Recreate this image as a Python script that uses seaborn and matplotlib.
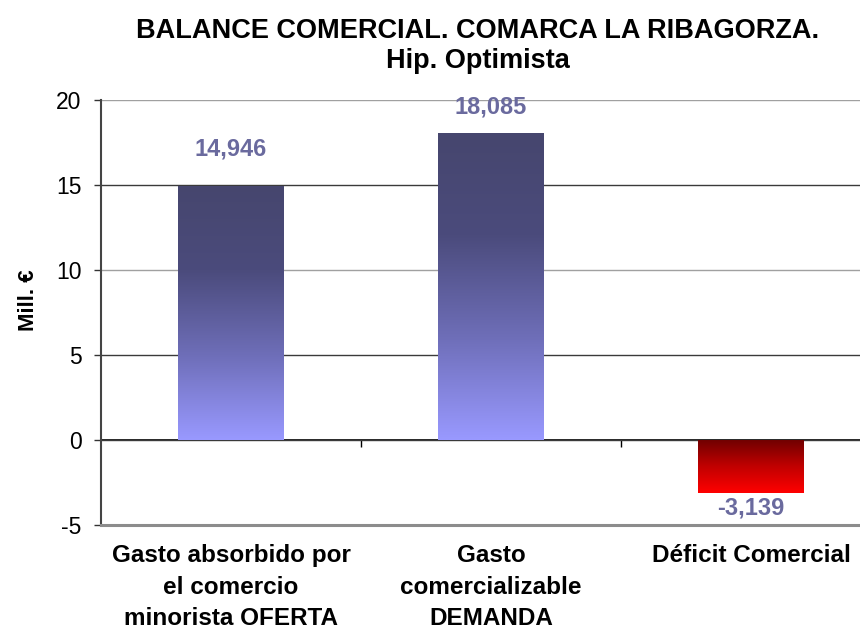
import numpy as np
import pandas as pd
import matplotlib
matplotlib.use("Agg")
import matplotlib.pyplot as plt
from matplotlib.colors import LinearSegmentedColormap
import seaborn as sns

categories = ["Gasto absorbido por\nel comercio\nminorista OFERTA",
              "Gasto\ncomercializable\nDEMANDA",
              "Déficit Comercial"]
values = [14.946, 18.085, -3.139]
value_labels = ["14,946", "18,085", "-3,139"]
y_ticks = [-5, 0, 5, 10, 15, 20]

sns.set_theme(style="white")
plt.rcParams["font.family"] = ["Liberation Sans", "DejaVu Sans"]
plt.rcParams["text.color"] = "black"
plt.rcParams["xtick.color"] = "black"
plt.rcParams["ytick.color"] = "black"
plt.rcParams["axes.labelcolor"] = "black"

df = pd.DataFrame({"categoria": categories, "valor": values})

fig = plt.figure(figsize=(8.6, 6.39), dpi=100)
ax = fig.add_axes([101 / 860, 1 - 525 / 639, 780 / 860, 425 / 639])

sns.barplot(data=df, x="categoria", y="valor", ax=ax, width=0.404,
            color="#9999ff", edgecolor="none", linewidth=0, zorder=3)

ax.set_ylim(-5, 20)
ax.set_xlim(-0.5, 2.5)
ax.set_yticks(y_ticks)
ax.set_yticklabels([str(t) for t in y_ticks], fontsize=16.5)

# horizontal gridlines
for t in y_ticks[1:]:
    ax.axhline(t, color="#a0a0a0" if t in (20, 10) else "#3a3a3a", lw=1.0, zorder=1)

# gradient fills clipped to each bar (dark at the top, light at the bottom)
blue = LinearSegmentedColormap.from_list("blue", ["#9999ff", "#6e6eb8", "#4b4b7c", "#46466e"])
red = LinearSegmentedColormap.from_list("red", ["#ff0000", "#c00000", "#6e0000"])
for patch, v in zip(ax.patches, values):
    x0, y0 = patch.get_x(), patch.get_y()
    w, h = patch.get_width(), patch.get_height()
    ylo, yhi = min(y0, y0 + h), max(y0, y0 + h)
    grad = np.linspace(0, 1, 256).reshape(-1, 1)
    cmap = blue if v >= 0 else red
    im = ax.imshow(grad, cmap=cmap, origin="lower", aspect="auto",
                   extent=[x0, x0 + w, ylo, yhi], zorder=4, interpolation="bilinear")
    im.set_clip_path(patch)
    patch.set_facecolor("none")
ax.set_xlim(-0.5, 2.5)
ax.set_ylim(-5, 20)

# value labels
for i, (v, lab) in enumerate(zip(values, value_labels)):
    ypos = min(v + 2.2, 19.6) if v >= 0 else v - 0.85
    ax.text(i, ypos, lab, ha="center", va="center", fontsize=17,
            fontweight="bold", color="#6a6a9e", zorder=5)

# spines
for s in ["top", "right"]:
    ax.spines[s].set_visible(False)
ax.spines["left"].set_color("#444444")
ax.spines["left"].set_linewidth(1.5)
ax.spines["bottom"].set_color("#8c8c8c")
ax.spines["bottom"].set_linewidth(2.2)

ax.tick_params(axis="y", which="major", left=True, length=5, width=1,
               color="#333333", pad=9, labelcolor="black")
ax.tick_params(axis="x", which="major", bottom=False, length=0, pad=14,
               labelcolor="black")
ax.set_xticks(range(len(categories)))
ax.set_xticklabels(categories, fontsize=17.5, fontweight="bold", linespacing=1.45,
                   va="top")
ax.set_xlabel("")
ax.set_ylabel("Mill. €", fontsize=16, fontweight="bold", color="black")
ax.yaxis.set_label_coords(-0.08, 0.53)

# zero axis with category separators
zero_ax = ax.secondary_xaxis(0.2)
zero_ax.set_xticks([0.5, 1.5])
zero_ax.set_xticklabels([])
zero_ax.tick_params(axis="x", direction="out", length=5, width=1, color="black")
zero_ax.spines["bottom"].set_color("black")
zero_ax.spines["bottom"].set_linewidth(1.2)

fig.text(478 / 860, 1 - 31 / 639, "BALANCE COMERCIAL. COMARCA LA RIBAGORZA.",
         ha="center", va="center", fontsize=19.5, fontweight="bold", color="black")
fig.text(478 / 860, 1 - 61 / 639, "Hip. Optimista",
         ha="center", va="center", fontsize=19.5, fontweight="bold", color="black")

fig.savefig("out.png", dpi=100)
